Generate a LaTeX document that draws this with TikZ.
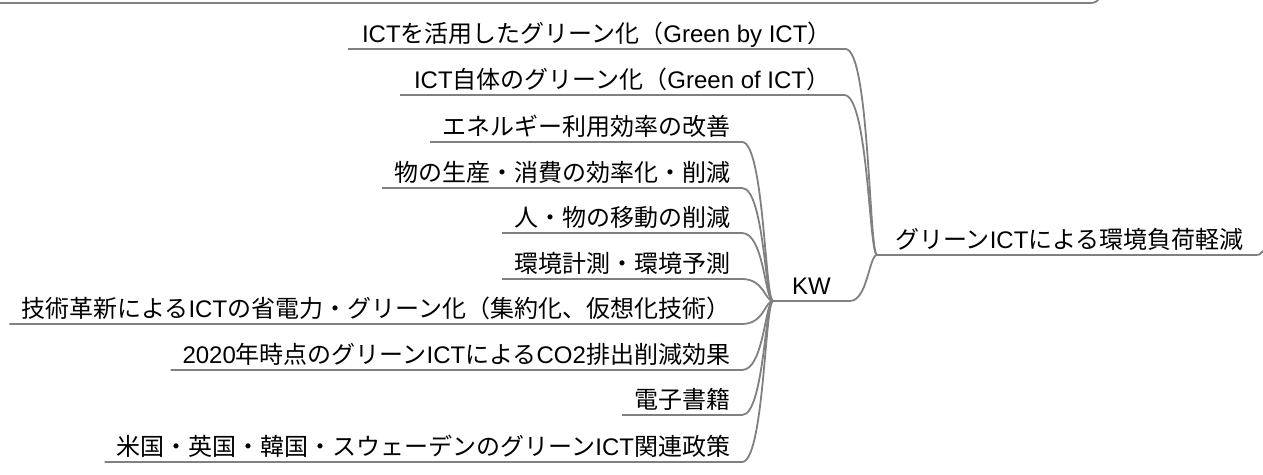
\documentclass[tikz,border=0pt]{standalone}
\usepackage{fontspec}
\setmainfont{Liberation Sans}
\newfontfamily\jp{Noto Sans CJK JP}
\definecolor{linegray}{HTML}{808080}
\begin{document}
\begin{tikzpicture}[x=1pt,y=-1pt,
  conn/.style={draw=linegray, line width=1.8pt},
  topic/.style={inner ysep=7pt, inner xsep=12pt, text depth=0pt, outer sep=0pt,
    font=\fontsize{24}{28}\selectfont}]
\useasboundingbox (0,0) rectangle (1263,474);
\clip (0,0) rectangle (1263,474);

% root and first level
\node[topic, anchor=south west, inner xsep=18pt] (root) at (877,255) {{\jp グリーン}ICT{\jp による環境負荷軽減}};
\node[topic, anchor=south west, inner xsep=14pt] (gby) at (348,49) {ICT{\jp を活用したグリーン化（}Green by ICT{\jp ）}};
\node[topic, anchor=south west, inner xsep=14pt] (gof) at (400,95) {ICT{\jp 自体のグリーン化（}Green of ICT{\jp ）}};
\node[topic, anchor=south west, inner xsep=19pt] (kw) at (773,301) {KW};

% KW children
\node[topic, anchor=south east] (k1) at (742,142) {\jp エネルギー利用効率の改善};
\node[topic, anchor=south east] (k2) at (742,188) {\jp 物の生産・消費の効率化・削減};
\node[topic, anchor=south east] (k3) at (742,233) {\jp 人・物の移動の削減};
\node[topic, anchor=south east] (k4) at (742,279) {\jp 環境計測・環境予測};
\node[topic, anchor=south east] (k5) at (742,324) {{\jp 技術革新による}ICT{\jp の省電力・グリーン化（集約化、仮想化技術）}};
\node[topic, anchor=south east] (k6) at (742,370) {2020{\jp 年時点のグリーン}ICT{\jp による}CO2{\jp 排出削減効果}};
\node[topic, anchor=south east] (k7) at (742,415) {\jp 電子書籍};
\node[topic, anchor=south east] (k8) at (742,462) {{\jp 米国・英国・韓国・スウェーデンのグリーン}ICT{\jp 関連政策}};

% top line (node above the frame)
\coordinate (topend) at (1100,-4);
\draw[conn] (0,3) -- (1090,3) .. controls (1096,3) and (1098,1) .. (topend);

% root underline
\coordinate (rootend) at (1263,251);
\draw[conn] (root.south west) -- (1256,255) .. controls (1260,255) and (1261,253) .. (rootend);

% first level underlines and connectors
\foreach \n in {gby,gof}{
  \draw[conn] (\n.south west) -- (\n.south east)
    .. controls +(24,0) and (869,255) .. (root.south west);
}
\draw[conn] (kw.south west) -- (kw.south east)
  .. controls +(18,0) and (869,255) .. (root.south west);

% KW children underlines and connectors
\foreach \n in {k1,k2,k3,k4,k5,k6,k7,k8}{
  \draw[conn] (\n.south west) -- (\n.south east)
    .. controls +(22,0) and (765,301) .. (kw.south west);
}
\end{tikzpicture}
\end{document}
